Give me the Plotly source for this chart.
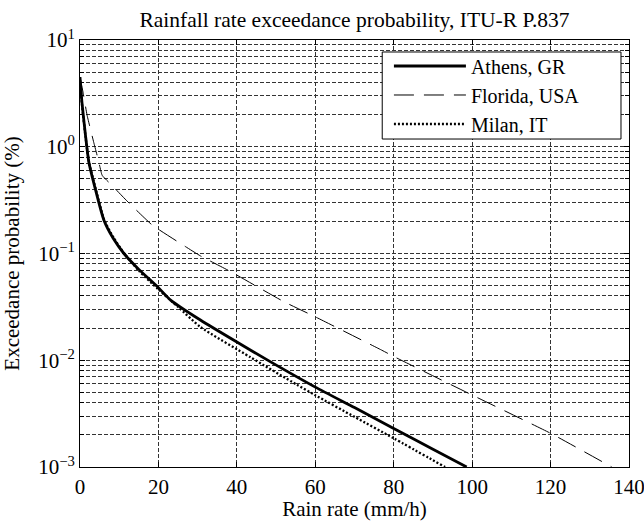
import plotly.graph_objects as go

# Rain rate (mm/h) and exceedance probability (%)
athens_r = [0, 0.5, 1.4, 2.25, 4.0, 6.1, 8.5, 11.2, 15, 19.7, 23.1, 30.7, 40, 48.5, 60, 70, 80, 90, 98.6]
athens_p = [4.5, 2.6, 1.28, 0.72, 0.39, 0.205, 0.138, 0.1, 0.071, 0.049, 0.0366, 0.0238, 0.0148, 0.0097, 0.0056, 0.0036, 0.0023, 0.00147, 0.001]

florida_r = [0, 0.8, 1.8, 3.5, 4.8, 5.65, 8, 12, 18.4, 26.9, 30.7, 38.3, 51.9, 60, 77, 80.1, 100.1, 120.1, 135.6]
florida_p = [4.5, 3.2, 1.98, 1.1, 0.72, 0.54, 0.44, 0.31, 0.185, 0.116, 0.095, 0.068, 0.0355, 0.0255, 0.0124, 0.0108, 0.0047, 0.00206, 0.001]

milan_r = [0, 0.5, 1.4, 2.3, 4.1, 6.2, 8.6, 11.3, 15, 20, 25, 30.7, 43.4, 55.3, 60, 70, 80.1, 93.1]
milan_p = [4.2, 2.5, 1.25, 0.72, 0.39, 0.205, 0.14, 0.1, 0.069, 0.046, 0.0316, 0.0205, 0.0107, 0.0059, 0.0047, 0.00295, 0.00185, 0.001]

y_ticks = [1e-3, 1e-2, 1e-1, 1e0, 1e1]
y_tick_text = ["10<sup>\u22123</sup>", "10<sup>\u22122</sup>", "10<sup>\u22121</sup>", "10<sup>0</sup>", "10<sup>1</sup>"]
y_minor = [m * 10 ** e for e in range(-3, 1) for m in range(2, 10)]

FONT = "Liberation Serif"
FS = 21

fig = go.Figure()
fig.add_trace(go.Scatter(x=athens_r, y=athens_p, mode="lines", name="Athens, GR",
                         line=dict(color="black", width=2.8, shape="spline", smoothing=0.6)))
fig.add_trace(go.Scatter(x=florida_r, y=florida_p, mode="lines", name="Florida, USA",
                         line=dict(color="black", width=1, dash="20px,10px", shape="spline", smoothing=0.4)))
fig.add_trace(go.Scatter(x=milan_r, y=milan_p, mode="lines", name="Milan, IT",
                         line=dict(color="black", width=2.3, dash="2px,2px", shape="spline", smoothing=0.6)))

grid = dict(showgrid=True, gridcolor="#333333", gridwidth=1, griddash="4px,2px")

# legend frame (white box with black border, as in the reference)
fig.add_shape(type="rect", xref="paper", yref="paper",
              x0=0.5505, x1=0.9854, y0=0.7681, y1=0.9719,
              fillcolor="white", line=dict(color="black", width=1), layer="above")

fig.update_layout(
    width=644, height=521,
    margin=dict(l=79.5, r=15, t=40, b=54),
    paper_bgcolor="white", plot_bgcolor="white",
    font_family=FONT, font_size=FS, font_color="black",
    title_text="Rainfall rate exceedance probability, ITU-R P.837",
    title_x=0.5, title_xref="paper", title_xanchor="center",
    title_y=1 - 19 / 521, title_yref="container", title_yanchor="middle",
    title_font_size=21.5,
    showlegend=True,
    legend=dict(x=0.5627, y=0.8712, xanchor="left", yanchor="middle",
                bgcolor="rgba(0,0,0,0)", borderwidth=0,
                font=dict(family=FONT, size=20, color="black"),
                itemwidth=72, tracegroupgap=0),
)
fig.update_xaxes(range=[0, 140], tick0=0, dtick=20, ticklabeloverflow="allow",
                 ticklabelstandoff=1, automargin=False,
                 tickfont_size=FS, tickfont_family=FONT,
                 showline=True, linecolor="black", linewidth=1, mirror="ticks",
                 ticks="inside", ticklen=5, tickcolor="black",
                 title_text="Rain rate (mm/h)", title_standoff=10,
                 title_font_size=FS, title_font_family=FONT,
                 zeroline=False, **grid)
fig.update_yaxes(type="log", range=[-3, 1], tickvals=y_ticks, ticktext=y_tick_text,
                 automargin=False,
                 tickfont_size=FS, tickfont_family=FONT,
                 showline=True, linecolor="black", linewidth=1, mirror="ticks",
                 ticks="inside", ticklen=5, tickcolor="black",
                 title_text="Exceedance probability (%)", title_standoff=12,
                 title_font_size=FS, title_font_family=FONT,
                 minor=dict(tickmode="array", tickvals=y_minor, ticks="inside", ticklen=4,
                            tickcolor="black", **grid),
                 zeroline=False, **grid)

fig.write_html("out.html")
